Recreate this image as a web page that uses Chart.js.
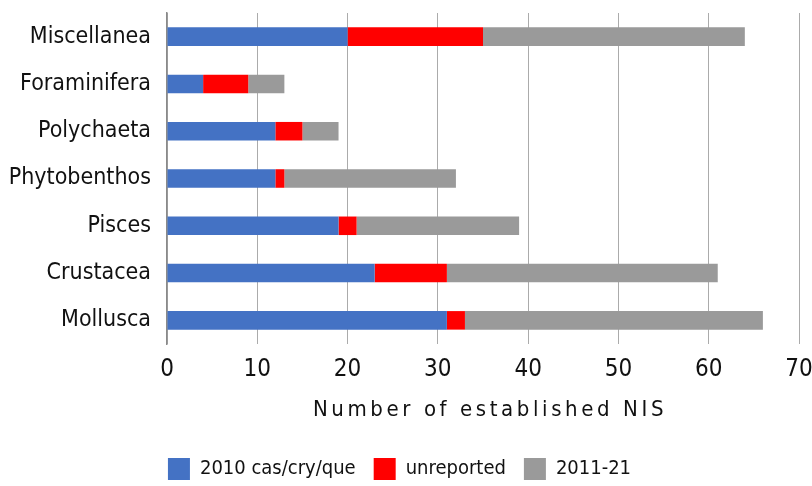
<!DOCTYPE html>
<html>
<head>
<meta charset="utf-8">
<script src="https://cdn.jsdelivr.net/npm/chart.js@4/dist/chart.umd.min.js"></script>
<style>
  html, body { margin: 0; padding: 0; background: #fff; }
  #wrap { width: 812px; height: 486px; }
</style>
</head>
<body>
<div id="wrap"><canvas id="chart"></canvas></div>
<script>
// data
const categories = ['Miscellanea', 'Foraminifera', 'Polychaeta', 'Phytobenthos', 'Pisces', 'Crustacea', 'Mollusca'];
const cas2010 = [20, 4, 12, 12, 19, 23, 31];
const unreported = [15, 5, 3, 1, 2, 8, 2];
const new2011_21 = [29, 4, 4, 19, 18, 30, 33];
const xTicks = [0, 10, 20, 30, 40, 50, 60, 70];

const FONT = '"Liberation Sans Narrow", "DejaVu Sans Condensed", Roboto, sans-serif';

// axis title with letter spacing, drawn under the x ticks
const axisTitle = {
  id: 'axisTitle',
  afterDraw(chart) {
    const ctx = chart.ctx;
    ctx.save();
    ctx.font = '22px ' + FONT;
    ctx.fillStyle = '#111';
    ctx.textAlign = 'center';
    ctx.textBaseline = 'middle';
    if ('letterSpacing' in ctx) ctx.letterSpacing = '3.6px';
    ctx.fillText('Number of established NIS', 490, 410);
    ctx.restore();
  }
};

const ctx = document.getElementById('chart').getContext('2d');
window.myChart = new Chart(ctx, {
  type: 'bar',
  data: {
    labels: categories,
    datasets: [
      { label: '2010 cas/cry/que', data: cas2010, backgroundColor: '#4472C4' },
      { label: 'unreported', data: unreported, backgroundColor: '#FF0000' },
      { label: '2011-21', data: new2011_21, backgroundColor: '#9A9A9A' }
    ]
  },
  options: {
    indexAxis: 'y',
    responsive: true,
    maintainAspectRatio: false,
    animation: false,
    categoryPercentage: 0.8,
    barPercentage: 0.49,
    layout: { padding: { left: 0, right: 13, top: 13, bottom: -4 } },
    plugins: {
      tooltip: { enabled: false },
      legend: {
        position: 'bottom',
        labels: {
          boxWidth: 22,
          boxHeight: 22,
          padding: 18,
          color: '#111',
          font: { family: FONT, size: 20 }
        }
      }
    },
    scales: {
      x: {
        stacked: true,
        min: 0,
        max: 70,
        afterBuildTicks(scale) { scale.ticks = xTicks.map(v => ({ value: v })); },
        afterFit(scale) {
          scale.height = 96;
          scale.paddingLeft = 0;
          scale.paddingRight = 0;
        },
        grid: { color: '#ababab', lineWidth: 1, drawTicks: false },
        border: { display: false },
        ticks: { color: '#111', padding: 11, font: { family: FONT, size: 24 } }
      },
      y: {
        stacked: true,
        afterFit(scale) {
          scale.width = 167;
          scale.paddingTop = 0;
          scale.paddingBottom = 0;
        },
        grid: { display: false, drawTicks: false },
        border: { color: '#8a8a8a', width: 1.5 },
        ticks: { color: '#111', padding: 16, font: { family: FONT, size: 23 } }
      }
    }
  },
  plugins: [axisTitle]
});
</script>
</body>
</html>
